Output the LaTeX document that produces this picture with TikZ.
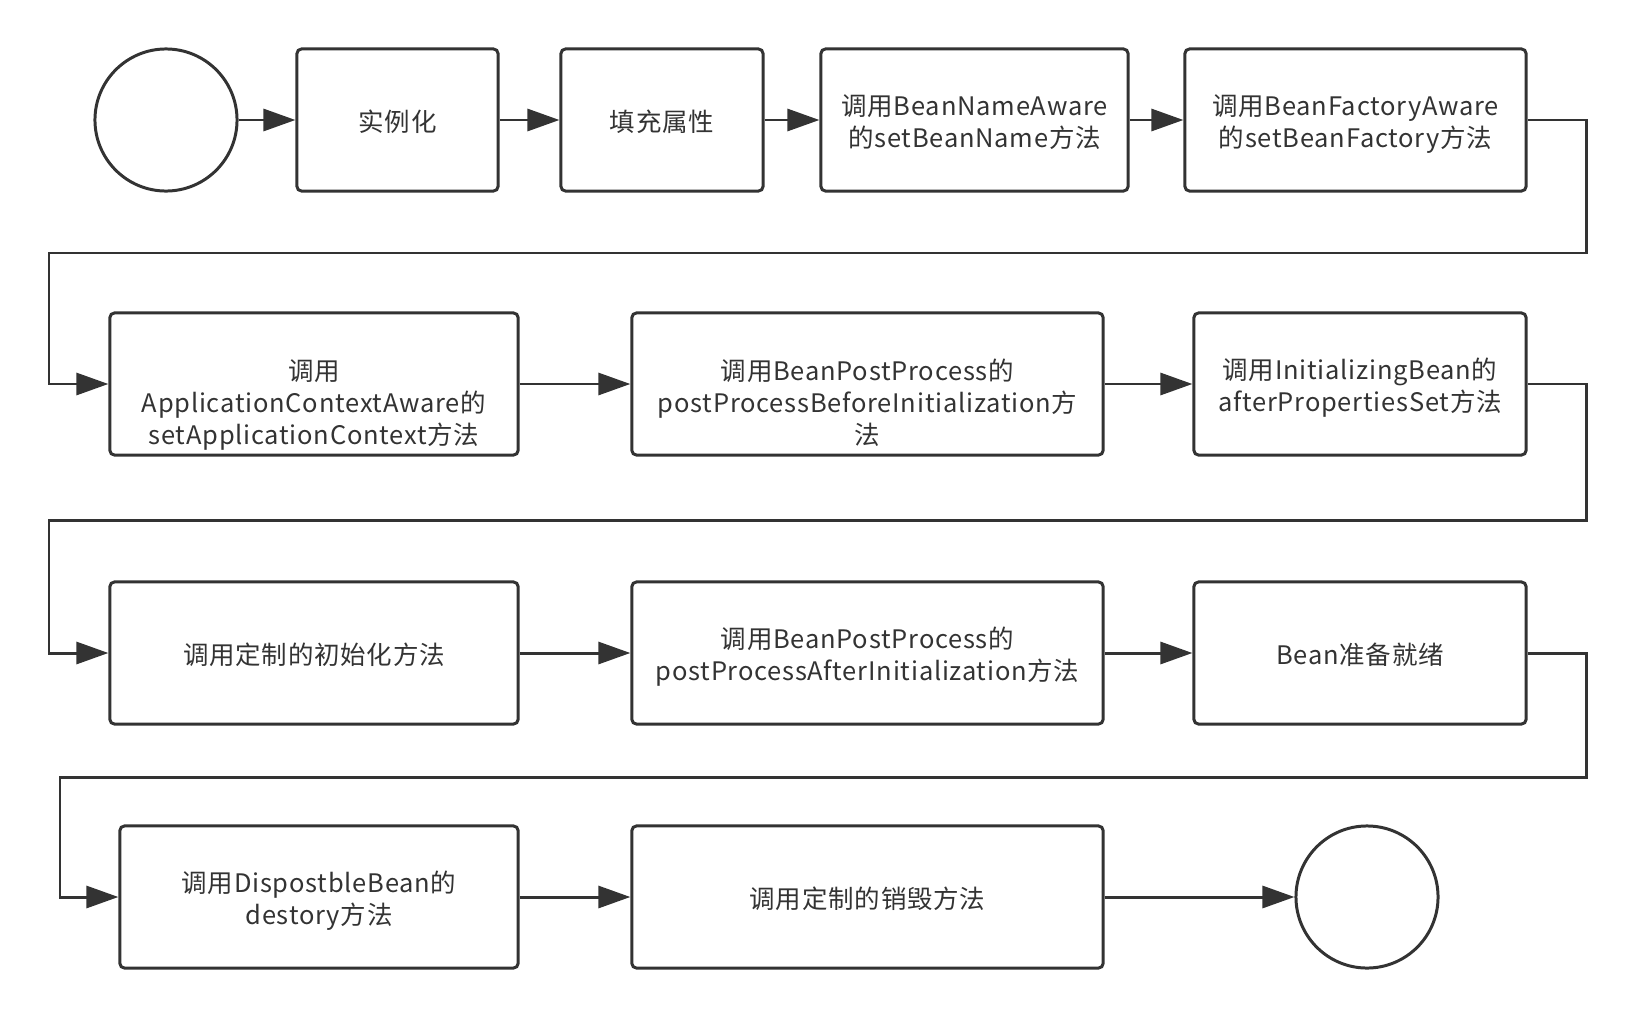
\documentclass[tikz,border=0pt]{standalone}
\usepackage{fontspec}
\setmainfont{Noto Sans CJK SC}[LetterSpace=3.0]
\usetikzlibrary{arrows.meta}
\definecolor{ink}{HTML}{333333}

\tikzset{>={Triangle[length=3.2mm,width=2.2mm]}}
\tikzset{
  stepbox/.style={draw=ink, line width=0.85pt, rounded corners=1.3pt, align=center,
    inner sep=0pt, text=ink, minimum height=1.42cm, font=\fontsize{7.25}{9.1}\selectfont,
    text height=6.4pt, text depth=0pt},
  twoline/.style={text height=15.8pt, text depth=0pt},
  threeline/.style={text height=34.2pt, text depth=0pt},
  endpoint/.style={draw=ink, line width=0.85pt, circle, minimum size=1.42cm, inner sep=0pt},
  flow/.style={draw=ink, line width=0.85pt, ->},
}

\begin{document}
\begin{tikzpicture}[x=0.01cm,y=-0.01cm]
\useasboundingbox (0,0) rectangle (1636,1018);

% Row 1
\node[endpoint] (start) at (166,120) {};
\node[stepbox, minimum width=2.01cm] (inst) at (397.5,120) {实例化};
\node[stepbox, minimum width=2.02cm] (fill) at (662,120) {填充属性};
\node[stepbox, twoline, minimum width=3.07cm] (nameaware) at (974.5,120) {调用BeanNameAware\\的setBeanName方法};
\node[stepbox, twoline, minimum width=3.41cm] (factoryaware) at (1355.5,120) {调用BeanFactoryAware\\的setBeanFactory方法};

\draw[flow] (start) -- (inst);
\draw[flow] (inst) -- (fill);
\draw[flow] (fill) -- (nameaware);
\draw[flow] (nameaware) -- (factoryaware);

% Row 2
\node[stepbox, threeline, minimum width=4.08cm] (appctx) at (314,384) {调用\\ApplicationContextAware的\\setApplicationContext方法};
\node[stepbox, threeline, minimum width=4.71cm] (beforeinit) at (867.5,384) {调用BeanPostProcess的\\postProcessBeforeInitialization方\\法};
\node[stepbox, twoline, minimum width=3.32cm] (propsset) at (1360,384) {调用InitializingBean的\\afterPropertiesSet方法};

\coordinate (r1) at (1586,253);
\coordinate (l1) at (49,253);
\draw[flow] (factoryaware.east) -| (r1) -- (l1) |- (appctx.west);
\draw[flow] (appctx) -- (beforeinit);
\draw[flow] (beforeinit) -- (propsset);

% Row 3
\node[stepbox, minimum width=4.08cm] (custinit) at (314,653) {调用定制的初始化方法};
\node[stepbox, twoline, minimum width=4.71cm] (afterinit) at (867.5,653) {调用BeanPostProcess的\\postProcessAfterInitialization方法};
\node[stepbox, minimum width=3.32cm] (ready) at (1360,653) {Bean准备就绪};

\coordinate (r2) at (1586,520);
\coordinate (l2) at (49,520);
\draw[flow] (propsset.east) -| (r2) -- (l2) |- (custinit.west);
\draw[flow] (custinit) -- (afterinit);
\draw[flow] (afterinit) -- (ready);

% Row 4
\node[stepbox, twoline, minimum width=3.98cm] (destroybean) at (319,897) {调用DispostbleBean的\\destory方法};
\node[stepbox, minimum width=4.71cm] (custdestroy) at (867.5,897) {调用定制的销毁方法};
\node[endpoint] (stop) at (1367,897) {};

\coordinate (r3) at (1586,777);
\coordinate (l3) at (60,777);
\draw[flow] (ready.east) -| (r3) -- (l3) |- (destroybean.west);
\draw[flow] (destroybean) -- (custdestroy);
\draw[flow] (custdestroy) -- (stop);

\end{tikzpicture}
\end{document}
